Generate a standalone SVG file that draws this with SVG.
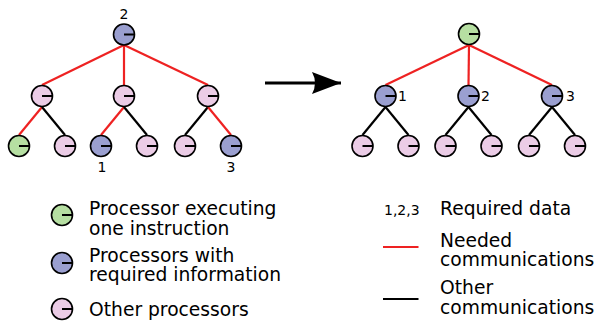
<svg xmlns="http://www.w3.org/2000/svg" width="596" height="322" viewBox="0 0 596 322">
<defs>
<style>
.n{stroke:#000;stroke-width:1.6}
.g{fill:#b6dfa2}
.b{fill:#9a9fd0}
.p{fill:#ebcce6}
.h{stroke:#000;stroke-width:2;stroke-linecap:butt}
.r{stroke:#ee2222;stroke-width:2.2;fill:none}
.k{stroke:#000;stroke-width:2.2;fill:none}
text{font-family:"DejaVu Sans","Liberation Sans",sans-serif;fill:#000}
.t{font-size:18.7px}
.s{font-size:14px}
</style>
<g id="node">
<circle class="n" r="10.5" cx="0" cy="0"/>
<line class="h" x1="0" y1="0" x2="10.5" y2="0"/>
</g>
<marker id="ah" viewBox="0 0 30 22" refX="29" refY="11" markerWidth="30" markerHeight="22" markerUnits="userSpaceOnUse" orient="auto">
<path d="M0,0 L29,11 L0,22 Q6,11 0,0 Z" fill="#000"/>
</marker>
</defs>
<rect width="596" height="322" fill="#fff"/>
<g id="connectors">
<line class="r" x1="124" y1="45" x2="42" y2="85"/>
<line class="r" x1="124" y1="45" x2="124" y2="85"/>
<line class="r" x1="124" y1="45" x2="208" y2="85"/>
<line class="r" x1="42" y1="107" x2="19" y2="135"/>
<line class="k" x1="42" y1="107" x2="65" y2="135"/>
<line class="r" x1="124" y1="107" x2="101" y2="135"/>
<line class="k" x1="124" y1="107" x2="147" y2="135"/>
<line class="k" x1="208" y1="107" x2="185" y2="135"/>
<line class="r" x1="208" y1="107" x2="231" y2="135"/>
<line class="r" x1="469" y1="45" x2="385.5" y2="85"/>
<line class="r" x1="469" y1="45" x2="468.5" y2="85"/>
<line class="r" x1="469" y1="45" x2="552" y2="85"/>
<line class="k" x1="385.5" y1="107" x2="362.5" y2="135"/>
<line class="k" x1="385.5" y1="107" x2="408.5" y2="135"/>
<line class="k" x1="468.5" y1="107" x2="445.5" y2="135"/>
<line class="k" x1="468.5" y1="107" x2="491.5" y2="135"/>
<line class="k" x1="552" y1="107" x2="529" y2="135"/>
<line class="k" x1="552" y1="107" x2="575" y2="135"/>
<line stroke="#000" stroke-width="2.8" x1="265" y1="83" x2="341" y2="83" marker-end="url(#ah)"/>
</g>
<g id="left-root"><use href="#node" x="124" y="34.5" class="b"/><text class="s" x="124" y="19" text-anchor="middle">2</text></g>
<g id="left-a"><use href="#node" x="42" y="96" class="p"/></g>
<g id="left-b"><use href="#node" x="124" y="96" class="p"/></g>
<g id="left-c"><use href="#node" x="208" y="96" class="p"/></g>
<g id="left-a1"><use href="#node" x="19" y="146" class="g"/></g>
<g id="left-a2"><use href="#node" x="65" y="146" class="p"/></g>
<g id="left-b1"><use href="#node" x="101" y="146" class="b"/><text class="s" x="102" y="172" text-anchor="middle">1</text></g>
<g id="left-b2"><use href="#node" x="147" y="146" class="p"/></g>
<g id="left-c1"><use href="#node" x="185" y="146" class="p"/></g>
<g id="left-c2"><use href="#node" x="231" y="146" class="b"/><text class="s" x="231" y="172" text-anchor="middle">3</text></g>
<g id="right-root"><use href="#node" x="469" y="34" class="g"/></g>
<g id="right-a"><use href="#node" x="385.5" y="96" class="b"/><text class="s" x="398" y="101">1</text></g>
<g id="right-b"><use href="#node" x="468.5" y="96" class="b"/><text class="s" x="481" y="101">2</text></g>
<g id="right-c"><use href="#node" x="552" y="96" class="b"/><text class="s" x="566" y="101">3</text></g>
<g id="right-a1"><use href="#node" x="362.5" y="146" class="p"/></g>
<g id="right-a2"><use href="#node" x="408.5" y="146" class="p"/></g>
<g id="right-b1"><use href="#node" x="445.5" y="146" class="p"/></g>
<g id="right-b2"><use href="#node" x="491.5" y="146" class="p"/></g>
<g id="right-c1"><use href="#node" x="529" y="146" class="p"/></g>
<g id="right-c2"><use href="#node" x="575" y="146" class="p"/></g>
<g id="legend-green"><use href="#node" x="62" y="215" class="g"/><text class="t" x="89" y="215">Processor executing</text><text class="t" x="89" y="235">one instruction</text></g>
<g id="legend-blue"><use href="#node" x="62" y="263" class="b"/><text class="t" x="89" y="261.5">Processors with</text><text class="t" x="89" y="281">required information</text></g>
<g id="legend-pink"><use href="#node" x="62" y="309" class="p"/><text class="t" x="89" y="316">Other processors</text></g>
<g id="legend-data"><text class="s" x="384" y="214.5">1,2,3</text><text class="t" x="440" y="214.5">Required data</text></g>
<g id="legend-needed"><line class="r" x1="383" y1="247" x2="418.5" y2="247" stroke-width="2.5"/><text class="t" x="440" y="246.5">Needed</text><text class="t" x="440" y="266">communications</text></g>
<g id="legend-other"><line class="k" x1="383" y1="299" x2="418.5" y2="299" stroke-width="2.5"/><text class="t" x="440" y="294">Other</text><text class="t" x="440" y="313.5">communications</text></g>
</svg>
